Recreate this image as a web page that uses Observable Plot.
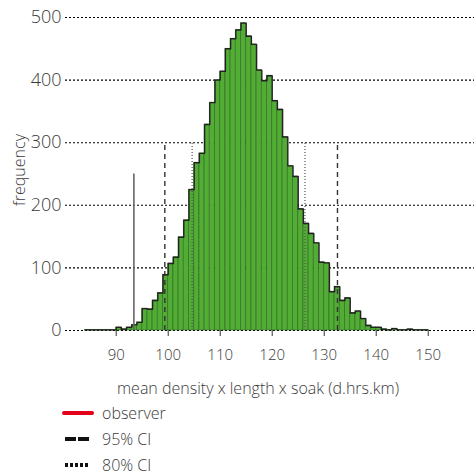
<!DOCTYPE html>
<html>
<head>
<meta charset="utf-8">
<script src="https://cdn.jsdelivr.net/npm/d3@7"></script>
<script src="https://cdn.jsdelivr.net/npm/@observablehq/plot@0.6"></script>
<style>
  body { margin: 0; background: #fff; font-family: "Open Sans", sans-serif; }
  #legend { margin-left: 62px; color: #3a3a3a; font-size: 16px; font-weight: 300; }
  .row { display: flex; align-items: center; height: 26px; }
  .row svg { margin-right: 8px; }
</style>
</head>
<body>
<div id="chart"></div>
<div id="legend"></div>
<script>
const binStart = [84,85,86,87,88,89,90,91,92,93,94,95,96,97,98,99,100,101,102,103,104,105,106,107,108,109,110,111,112,113,114,115,116,117,118,119,120,121,122,123,124,125,126,127,128,129,130,131,132,133,134,135,136,137,138,139,140,141,142,143,144,145,146,147,148,149];
const counts   = [1,1,1,1,1,1,5,2,5,9,13,35,34,48,60,89,107,117,149,176,225,268,283,329,364,400,414,450,466,480,491,470,457,416,399,407,367,353,309,263,246,194,171,155,140,109,108,62,70,48,52,28,31,19,8,5,5,2,1,3,1,1,2,1,1,1];
const binWidth = 1;
const observer = 93.4, observerTop = 250;
const ci95 = [99.35, 132.55];
const ci80 = [104.6, 126.3];
const ciTop = 300;
const xTicks = [90,100,110,120,130,140,150];
const yTicks = [0,100,200,300,400,500];
const xLabel = "mean density x length x soak (d.hrs.km)";
const yLabel = "frequency";
const legendItems = [
  {label: "observer", kind: "solid", color: "#e3001b"},
  {label: "95% CI", kind: "dash", color: "#111"},
  {label: "80% CI", kind: "dot", color: "#111"}
];

const bins = binStart.map((s, i) => ({x1: s, x2: s + binWidth, y: counts[i]}));
const outline = bins.map(b => ({x: b.x1, y: b.y}));
outline.push({x: bins[bins.length - 1].x2, y: bins[bins.length - 1].y});

const chart = Plot.plot({
  width: 474,
  height: 400,
  marginLeft: 65,
  marginRight: 0,
  marginTop: 17,
  marginBottom: 70,
  style: {fontFamily: "Open Sans, sans-serif", background: "#fff", fontWeight: 300},
  x: {domain: [80.25, 158.9]},
  y: {domain: [0, 500]},
  marks: [
    Plot.gridY(yTicks, {stroke: "#000", strokeOpacity: 1, strokeDasharray: "2,2", strokeWidth: 1.1}),
    Plot.rectY(bins, {x1: "x1", x2: "x2", y: "y", fill: "#52ad35", stroke: "#1f4a14", strokeWidth: 0.8, strokeOpacity: 0.55}),
    Plot.lineY(outline, {x: "x", y: "y", curve: "step-after", stroke: "#222", strokeWidth: 1.4}),
    Plot.ruleX([observer], {y1: 0, y2: observerTop, stroke: "#666", strokeWidth: 1.6}),
    Plot.ruleX(ci95, {y1: 0, y2: ciTop, stroke: "#333", strokeWidth: 1.4, strokeDasharray: "5,4"}),
    Plot.ruleX(ci80, {y1: 0, y2: ciTop, stroke: "#555", strokeWidth: 1.2, strokeDasharray: "1,2"}),
    Plot.axisY(yTicks, {tickSize: 0, tickPadding: 4, fontSize: 18, fill: "#3a3a3a", label: null}),
    Plot.axisX(xTicks, {tickSize: 6, tickPadding: 13, fontSize: 15, fill: "#3a3a3a", stroke: "#333", label: null}),
    Plot.text([yLabel], {frameAnchor: "left", textAnchor: "middle", lineAnchor: "middle", rotate: -90, dx: -46, dy: -4, fontSize: 16, fill: "#3a3a3a"}),
    Plot.text([xLabel], {frameAnchor: "bottom", lineAnchor: "middle", dy: 58, dx: -12, fontSize: 16, fill: "#3a3a3a"})
  ]
});
document.getElementById("chart").appendChild(chart);

const legend = d3.select("#legend");
legendItems.forEach(item => {
  const row = legend.append("div").attr("class", "row");
  const svg = row.append("svg").attr("width", 32).attr("height", 10);
  if (item.kind === "solid") {
    svg.append("line").attr("x1", 2).attr("x2", 30).attr("y1", 5).attr("y2", 5)
      .attr("stroke", item.color).attr("stroke-width", 4).attr("stroke-linecap", "round");
  } else if (item.kind === "dash") {
    svg.append("line").attr("x1", 3).attr("x2", 27).attr("y1", 5).attr("y2", 5)
      .attr("stroke", item.color).attr("stroke-width", 4).attr("stroke-dasharray", "11,2");
  } else {
    svg.append("line").attr("x1", 3).attr("x2", 27).attr("y1", 5).attr("y2", 5)
      .attr("stroke", item.color).attr("stroke-width", 4).attr("stroke-dasharray", "3,2");
  }
  row.append("span").text(item.label);
});
</script>
</body>
</html>
